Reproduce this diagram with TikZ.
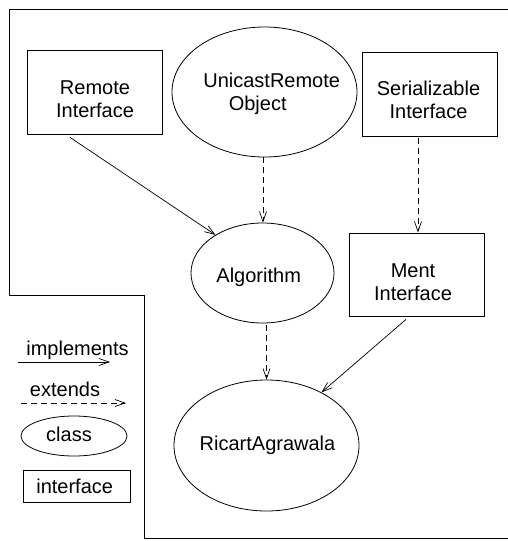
\documentclass[tikz,border=0pt]{standalone}
\usepackage{fontspec}
\setmainfont{Liberation Sans}
\usetikzlibrary{arrows.meta,shapes.geometric}

\tikzset{
  classnode/.style={draw, ellipse, line width=0.8pt, inner sep=0pt},
  ifacenode/.style={draw, rectangle, line width=0.8pt, inner sep=0pt},
  lbl/.style={inner sep=0pt, align=center, anchor=base,
    font=\fontsize{20}{23}\selectfont},
  tipV/.style={-{Straight Barb[length=10pt,width=7pt,line width=0.7pt]}},
  impl/.style={tipV, line width=0.7pt},
  extd/.style={tipV, line width=0.7pt, dash pattern=on 6pt off 4pt},
  frame/.style={line width=1pt}
}

\begin{document}
\begin{tikzpicture}[x=1pt,y=-1pt]
\useasboundingbox (0,0) rectangle (508,541);

% outer frame
\draw[frame] (508,9.7) -- (9.3,9.7) -- (9.3,295) -- (144,295)
  -- (144,538.5) -- (508,538.5);

% interfaces (two-line labels are placed by the baseline of their last line)
\node[ifacenode, minimum width=134.6pt, minimum height=84pt] (ri) at (95,92) {};
\node[lbl] (ritxt) at (95,117) {Remote\\Interface};

\node[ifacenode, minimum width=135pt, minimum height=84pt] (ser) at (429.5,94) {};
\node[lbl] (sertxt) at (428.5,118.5) {Serializable\\Interface};

\node[ifacenode, minimum width=135pt, minimum height=83pt] (ment) at (416.5,274.5) {};
\node[lbl] (menttxt) at (413,300) {Ment\\Interface};

% classes
\node[classnode, minimum width=185pt, minimum height=130pt] (uro) at (264.5,92) {};
\node[lbl] (urotxt) at (271.7,110) {UnicastRemote\\\hspace*{-28pt}Object};

\node[classnode, minimum width=143pt, minimum height=100pt] (alg) at (262.5,273) {};
\node[lbl] (algtxt) at (258.7,282) {Algorithm};

\node[classnode, minimum width=185pt, minimum height=131pt] (ric) at (266.5,445.5) {};
\node[lbl] (rictxt) at (267.5,450) {RicartAgrawala};

% relations
\draw[impl] ([shift={(-25,3)}]ri.south) -- (alg.141);
\draw[extd] ([xshift=-1.5pt]uro.south) -- ([xshift=0.5pt]alg.north);
\draw[extd] ([shift={(-11.5,2)}]ser.south) -- ([xshift=1.5pt]ment.north);
\draw[extd] ([shift={(4,2)}]alg.south) -- (ric.north);
\draw[impl] ([shift={(-10.5,3)}]ment.south) -- (ric.44);

% legend
\node[lbl] (limpl) at (77.5,355.7) {implements};
\coordinate (li1) at (18,362);
\coordinate (li2) at (110,362);
\draw[impl] (li1) -- (li2);

\node[lbl] (lext) at (65,396) {extends};
\coordinate (le1) at (21,403);
\coordinate (le2) at (126,403);
\draw[extd] (le1) -- (le2);

\node[classnode, minimum width=106pt, minimum height=40pt] (lclass) at (74,436) {};
\node[lbl] (lclasstxt) at (69,441.7) {class};

\node[ifacenode, minimum width=107pt, minimum height=32pt] (liface) at (76.5,486) {};
\node[lbl] (lifacetxt) at (74.7,493.3) {interface};
\end{tikzpicture}
\end{document}
